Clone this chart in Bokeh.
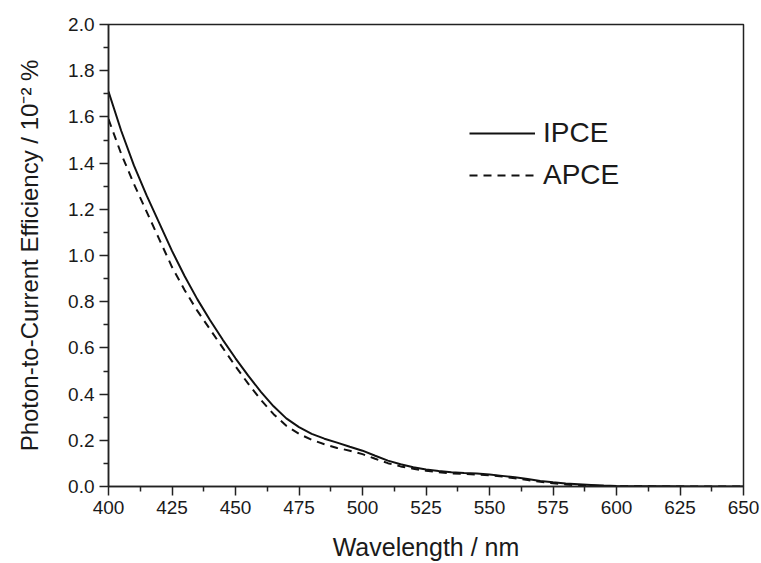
from bokeh.plotting import figure
from bokeh.models import ColumnDataSource, Range1d, FixedTicker, Legend, LegendItem, CustomJSTickFormatter
from bokeh.embed import file_html
from bokeh.resources import INLINE

wavelength = [400, 405, 410, 415, 420, 425, 430, 435, 440, 445, 450, 455, 460, 465, 470, 475,
              480, 485, 490, 495, 500, 505, 510, 515, 520, 525, 530, 535, 540, 545, 550, 555,
              560, 565, 570, 575, 580, 585, 590, 595, 600, 610, 620, 630, 640, 650]
ipce = [1.71, 1.54, 1.39, 1.26, 1.14, 1.02, 0.91, 0.81, 0.72, 0.635, 0.555, 0.48, 0.41, 0.347,
        0.295, 0.257, 0.228, 0.207, 0.19, 0.172, 0.155, 0.133, 0.112, 0.096, 0.083, 0.074, 0.067,
        0.062, 0.058, 0.056, 0.052, 0.046, 0.040, 0.032, 0.024, 0.018, 0.013, 0.010, 0.007,
        0.004, 0.002, 0.001, 0.001, 0.0, 0.0, 0.0]
apce = [1.59, 1.44, 1.31, 1.19, 1.07, 0.95, 0.85, 0.76, 0.68, 0.60, 0.52, 0.445, 0.375, 0.313,
        0.263, 0.228, 0.202, 0.183, 0.167, 0.155, 0.14, 0.12, 0.101, 0.087, 0.077, 0.068, 0.062,
        0.057, 0.054, 0.052, 0.049, 0.043, 0.036, 0.028, 0.020, 0.014, 0.009, 0.005, 0.003,
        0.002, 0.001, 0.001, 0.0, 0.0, 0.0, 0.0]

x_ticks = [400, 425, 450, 475, 500, 525, 550, 575, 600, 625, 650]
x_minor = [412.5 + 25 * i for i in range(10)]
y_ticks = [0.0, 0.2, 0.4, 0.6, 0.8, 1.0, 1.2, 1.4, 1.6, 1.8, 2.0]
y_minor = [0.1 + 0.2 * i for i in range(10)]

FONT = "Liberation Sans"
TXT = "#1a1a1a"

p = figure(width=761, height=563, output_backend="svg", toolbar_location=None,
           x_range=Range1d(400, 650), y_range=Range1d(0, 2.0),
           min_border_left=108, min_border_right=18, min_border_top=24, min_border_bottom=77)
p.background_fill_color = "white"
p.border_fill_color = "white"
p.outline_line_color = "#222222"
p.outline_line_width = 1.5
p.xgrid.visible = False
p.ygrid.visible = False

src = ColumnDataSource(dict(w=wavelength, ipce=ipce, apce=apce))
r1 = p.line("w", "ipce", source=src, line_color="#111111", line_width=2)
r2 = p.line("w", "apce", source=src, line_color="#111111", line_width=2, line_dash="8 6")

p.xaxis.ticker = FixedTicker(ticks=x_ticks, minor_ticks=x_minor)
p.yaxis.ticker = FixedTicker(ticks=y_ticks, minor_ticks=y_minor)
p.yaxis.formatter = CustomJSTickFormatter(code="return tick.toFixed(1);")

for ax in (p.xaxis[0], p.yaxis[0]):
    ax.axis_line_color = "#222222"
    ax.axis_line_width = 1.5
    ax.major_tick_line_color = "#222222"
    ax.major_tick_line_width = 1.5
    ax.minor_tick_line_color = "#222222"
    ax.minor_tick_line_width = 1.5
    ax.major_tick_out = 9
    ax.major_tick_in = 0
    ax.minor_tick_out = 5
    ax.minor_tick_in = 0
    ax.major_label_text_font = FONT
    ax.major_label_text_font_size = "19px"
    ax.major_label_text_color = TXT
    ax.axis_label_text_font = FONT
    ax.axis_label_text_font_style = "normal"
    ax.axis_label_text_color = TXT
    ax.major_label_standoff = 5

p.xaxis.axis_label = "Wavelength / nm"
p.yaxis.axis_label = "Photon-to-Current Efficiency / 10\u207b\u00b2 %"
p.xaxis.axis_label_text_font_size = "25px"
p.yaxis.axis_label_text_font_size = "24px"
p.xaxis.axis_label_standoff = 16
p.yaxis.axis_label_standoff = 22

legend = Legend(items=[LegendItem(label="IPCE", renderers=[r1]),
                       LegendItem(label="APCE", renderers=[r2])],
                location=(361, 295))
legend.label_text_font = FONT
legend.label_text_font_size = "28px"
legend.label_text_color = TXT
legend.glyph_width = 66
legend.glyph_height = 30
legend.label_standoff = 8
legend.spacing = 10
legend.padding = 0
legend.margin = 0
legend.border_line_color = None
legend.background_fill_alpha = 0
p.add_layout(legend)

open("out.html", "w").write(file_html(p, INLINE))
